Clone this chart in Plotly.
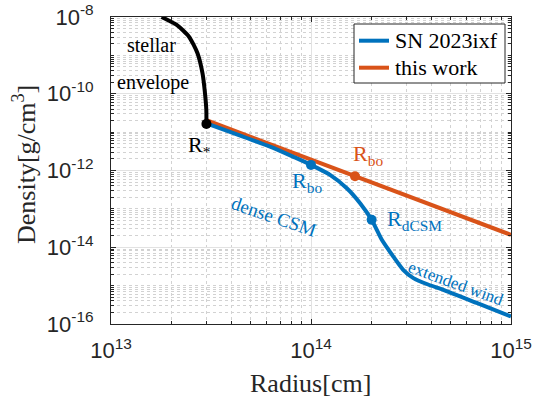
import numpy as np
import plotly.graph_objects as go

# Stellar envelope profile (black), ending at the stellar radius R*
env_r = [1.79e13, 2.13e13, 2.455e13, 2.707e13, 2.868e13, 2.951e13, 2.996e13, 3.0e13]
env_rho = [1.0e-8, 6.2e-9, 3.07e-9, 1.14e-9, 3.4e-10, 1.03e-10, 3.8e-11, 1.64e-11]

# SN 2023ixf CSM density profile
ixf_r = [3.0e13, 6.24e13, 8.3e13, 1.0e14, 1.245e14, 1.51e14, 1.76e14, 2.01e14,
         2.26e14, 2.58e14, 2.89e14, 3.25e14, 3.85e14, 4.59e14, 6.74e14, 1.0e15]
ixf_rho = [1.7e-11, 4.19e-12, 2.19e-12, 1.4e-12, 7.7e-13, 3.46e-13, 1.41e-13, 5.2e-14,
           1.56e-14, 5.7e-15, 2.58e-15, 1.57e-15, 1.07e-15, 7.8e-16, 3.54e-16, 1.57e-16]

# Wind profile of this work
this_r = [3.0e13, 1.0e15]
this_rho = [2.05e-11, 2.1e-14]

# Characteristic radii
r_star, rho_star = 3.0e13, 1.64e-11
r_bo_ixf, rho_bo_ixf = 1.0e14, 1.4e-12
r_dcsm, rho_dcsm = 2.01e14, 5.2e-14
r_bo_this, rho_bo_this = 1.66e14, 7.1e-13

x_ticks = [1e13, 1e14, 1e15]
x_ticktext = ["10<sup>13</sup>", "10<sup>14</sup>", "10<sup>15</sup>"]
y_ticks = [1e-16, 1e-14, 1e-12, 1e-10, 1e-8]
y_ticktext = ["10<sup>-16</sup>", "10<sup>-14</sup>", "10<sup>-12</sup>", "10<sup>-10</sup>", "10<sup>-8</sup>"]

legend_names = ["SN 2023ixf", "this work"]

BLUE = "#0072BD"
ORANGE = "#D95319"
AX = "#262626"
SERIF = "Liberation Serif, Times New Roman, serif"
SANS = "Liberation Sans, Arial, sans-serif"

x_minor = [k * 10.0 ** n for n in (13, 14) for k in range(2, 10)]
y_minor = [k * 10.0 ** n for n in range(-16, -8) for k in range(1, 10)
           if not (k == 1 and n % 2 == 0)]

fig = go.Figure()
fig.add_trace(go.Scatter(x=this_r, y=this_rho, mode="lines", name=legend_names[1],
                         line=dict(color=ORANGE, width=4)))
fig.add_trace(go.Scatter(x=ixf_r, y=ixf_rho, mode="lines", name=legend_names[0],
                         line=dict(color=BLUE, width=4, shape="spline", smoothing=0.6)))
fig.add_trace(go.Scatter(x=env_r, y=env_rho, mode="lines",
                         line=dict(color="black", width=4, shape="spline", smoothing=0.6)))

for (r, rho, c) in [(r_star, rho_star, "black"), (r_bo_ixf, rho_bo_ixf, BLUE),
                    (r_dcsm, rho_dcsm, BLUE), (r_bo_this, rho_bo_this, ORANGE)]:
    fig.add_trace(go.Scatter(x=[r], y=[rho], mode="markers",
                             marker=dict(color=c, size=10)))

def label(r, rho, text, color, dx, dy, size=22):
    fig.add_annotation(x=np.log10(r), y=np.log10(rho), text=text, showarrow=False,
                       xshift=dx, yshift=dy, font=dict(family=SERIF, size=size, color=color))

label(r_star, rho_star, "R<sub>*</sub>", "black", -7, -22)
label(r_bo_ixf, rho_bo_ixf, "R<sub>bo</sub>", BLUE, -4, -17)
label(r_bo_this, rho_bo_this, "R<sub>bo</sub>", ORANGE, 13, 21)
label(r_dcsm, rho_dcsm, "R<sub>dCSM</sub>", BLUE, 43, 0)

# pixel -> paper helpers for the 111..511 x 17..324 plot box
def px(x):
    return (x - 111) / 400.0

def py(y):
    return (324 - y) / 307.0

def text(x, y, t, size, color="black", angle=0, anchor="center"):
    fig.add_annotation(x=px(x), y=py(y), xref="paper", yref="paper", text=t,
                       showarrow=False, textangle=angle, xanchor=anchor, yanchor="middle",
                       font=dict(family=SERIF, size=size, color=color))

text(151, 45, "stellar", 20)
text(153, 82, "envelope", 20)
text(274, 216, "dense CSM", 19, BLUE, 19)
text(456, 283, "extended wind", 17, BLUE, 20)
text(310, 383, "Radius[cm]", 26, AX)
text(24, 165, "Density[g/cm<sup>3</sup>]", 26, AX, -90)

# legend box
fig.add_shape(type="rect", xref="paper", yref="paper",
              x0=px(354), x1=px(505), y0=py(83), y1=py(24),
              line=dict(color=AX, width=1), fillcolor="white", layer="above")
for name, color, yy in [(legend_names[0], BLUE, 40.7), (legend_names[1], ORANGE, 67.7)]:
    fig.add_shape(type="line", xref="paper", yref="paper",
                  x0=px(359), x1=px(389), y0=py(yy), y1=py(yy),
                  line=dict(color=color, width=4), layer="above")
    text(393, yy, name, 22, "black", anchor="left")

axis_common = dict(
    type="log", showline=True, linecolor=AX, linewidth=1, mirror="ticks",
    ticks="inside", ticklen=5, tickcolor=AX, showgrid=True, gridcolor="#e2e2e2",
    gridwidth=1, zeroline=False, automargin=False,
    tickfont=dict(family=SANS, size=22, color=AX),
)
fig.update_xaxes(range=[13, 15], tickvals=x_ticks, ticktext=x_ticktext,
                 minor=dict(tickvals=x_minor, ticks="inside", ticklen=3, tickcolor=AX,
                            showgrid=True, gridcolor="#d2d2d2", griddash="dot", gridwidth=1),
                 ticklabelstandoff=7, **axis_common)
fig.update_yaxes(range=[-16, -8], tickvals=y_ticks, ticktext=y_ticktext,
                 minor=dict(tickvals=y_minor, ticks="inside", ticklen=3, tickcolor=AX,
                            showgrid=True, gridcolor="#d2d2d2", griddash="dot", gridwidth=1),
                 ticklabelstandoff=12, **axis_common)

fig.update_layout(
    width=538, height=402, margin=dict(l=111, r=27, t=17, b=78),
    plot_bgcolor="white", paper_bgcolor="white", showlegend=False,
)

fig.write_html("out.html")
